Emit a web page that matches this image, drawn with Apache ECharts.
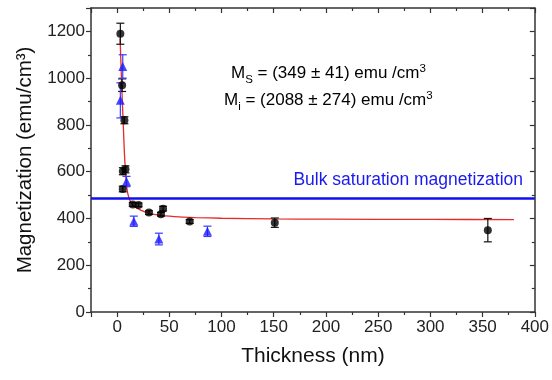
<!DOCTYPE html>
<html>
<head>
<meta charset="utf-8">
<script src="https://cdn.jsdelivr.net/npm/echarts@6/dist/echarts.min.js"></script>
<style>
html,body{margin:0;padding:0;background:#fff;}
#chart{width:552px;height:380px;}
</style>
</head>
<body>
<div id="chart"></div>
<script>
// Black circles: thickness (nm), magnetization (emu/cm3), error
var blackThickness = [3.1, 4.8, 7, 5.5, 8, 5.4, 15, 20.5, 30.5, 42, 44, 69.5, 151, 355];
var blackMag       = [1190, 970, 820, 602, 610, 526, 460, 458, 425, 418, 442, 387, 382, 350];
var blackErr       = [45, 27, 15, 15, 15, 12, 8, 8, 8, 8, 10, 8, 20, 50];

// Blue triangles
var blueThickness = [5.4, 3.1, 9, 16, 40, 86.5];
var blueMag       = [1050, 905, 558, 388, 312, 345];
var blueErr       = [50, 75, 22, 22, 25, 22];

// Red fit curve
var fitThickness = [2.8, 3, 4, 5, 6, 7, 8, 9, 10, 12, 14, 17, 22, 30, 40, 55, 75, 100, 150, 200, 300, 380];
var fitMag       = [1170, 1150, 1020, 900, 790, 680, 600, 545, 510, 480, 462, 450, 437, 424, 414, 408, 404, 401, 398, 397, 396, 395];

// Bulk saturation magnetization
var bulkValue = 485;

var xTickLabels = ['0','50','100','150','200','250','300','350','400'];
var yTickLabels = ['0','200','400','600','800','1000','1200'];

var FONT = 'Liberation Sans, Arial, sans-serif';
var AXC = '#333';

function pairs(xs, ys, es) {
  return xs.map(function (x, i) { return es ? [x, ys[i], es[i]] : [x, ys[i]]; });
}

function errRender(color) {
  return function (params, api) {
    var x = api.value(0), y = api.value(1), e = api.value(2);
    var top = api.coord([x, y + e]);
    var bot = api.coord([x, y - e]);
    var w = 4;
    var st = { stroke: color, lineWidth: 1.2 };
    return {
      type: 'group',
      children: [
        { type: 'line', shape: { x1: top[0], y1: top[1], x2: bot[0], y2: bot[1] }, style: st },
        { type: 'line', shape: { x1: top[0] - w, y1: top[1], x2: top[0] + w, y2: top[1] }, style: st },
        { type: 'line', shape: { x1: bot[0] - w, y1: bot[1], x2: bot[0] + w, y2: bot[1] }, style: st }
      ]
    };
  };
}

var chart = echarts.init(document.getElementById('chart'), null, { renderer: 'canvas' });

var xBase = {
  type: 'value', min: -25, max: 400, splitNumber: 8, minInterval: 50, maxInterval: 50,
  splitLine: { show: false },
  axisLine: { show: true, onZero: false, lineStyle: { color: AXC, width: 1.5 } }
};
var yBase = {
  type: 'value', min: 0, max: 1300, splitNumber: 6, minInterval: 200, maxInterval: 200,
  splitLine: { show: false },
  axisLine: { show: true, onZero: false, lineStyle: { color: AXC, width: 1.5 } }
};

var richM = {
  m: { fontFamily: FONT, fontSize: 17, fill: '#000', verticalAlign: 'bottom' },
  sub: { fontFamily: FONT, fontSize: 11.5, fill: '#000', verticalAlign: 'bottom', padding: [0, 0, -4, 0] },
  sup: { fontFamily: FONT, fontSize: 11.5, fill: '#000', verticalAlign: 'top', padding: [-2, 0, 0, 0] }
};

var option = {
  animation: false,
  backgroundColor: '#fff',
  grid: { left: 91, right: 15, top: 8, bottom: 68, containLabel: false },
  xAxis: [
    Object.assign({}, xBase, {
      position: 'bottom',
      name: 'Thickness (nm)', nameLocation: 'middle', nameGap: 34,
      nameTextStyle: { fontFamily: FONT, fontSize: 21, color: '#111' },
      axisTick: { show: true, inside: false, length: 5, lineStyle: { color: AXC, width: 1.2 } },
      minorTick: { show: true, splitNumber: 2, length: 3, lineStyle: { color: AXC, width: 1.2 } },
      axisLabel: {
        fontFamily: FONT, fontSize: 17, color: '#222', margin: 7,
        formatter: function (v) { var s = String(v); return xTickLabels.indexOf(s) >= 0 ? s : ''; }
      }
    }),
    Object.assign({}, xBase, {
      position: 'top',
      axisTick: { show: true, inside: true, length: 5, lineStyle: { color: AXC, width: 1.2 } },
      minorTick: { show: true, splitNumber: 2, length: 3, lineStyle: { color: AXC, width: 1.2 } },
      axisLabel: { show: false }
    })
  ],
  yAxis: [
    Object.assign({}, yBase, {
      position: 'left',
      name: 'Magnetization (emu/cm³)', nameLocation: 'middle', nameGap: 50, nameRotate: 90,
      nameTextStyle: { fontFamily: FONT, fontSize: 20.5, color: '#111' },
      axisTick: { show: true, inside: false, length: 5, lineStyle: { color: AXC, width: 1.2 } },
      minorTick: { show: true, splitNumber: 2, length: 3, lineStyle: { color: AXC, width: 1.2 } },
      axisLabel: {
        fontFamily: FONT, fontSize: 17, color: '#222', margin: 6,
        formatter: function (v) { var s = String(v); return yTickLabels.indexOf(s) >= 0 ? s : ''; }
      }
    }),
    Object.assign({}, yBase, {
      position: 'right',
      axisTick: { show: true, inside: true, length: 5, lineStyle: { color: AXC, width: 1.2 } },
      minorTick: { show: true, splitNumber: 2, length: 3, lineStyle: { color: AXC, width: 1.2 } },
      axisLabel: { show: false }
    })
  ],
  series: [
    {
      type: 'line', name: 'bulk', data: [], xAxisIndex: 0, yAxisIndex: 0,
      markLine: {
        silent: true, symbol: ['none', 'none'],
        lineStyle: { color: '#1010ee', width: 2.5, type: 'solid' },
        label: { show: false },
        data: [{ yAxis: bulkValue }]
      }
    },
    {
      type: 'line', name: 'fit', data: pairs(fitThickness, fitMag),
      smooth: 0.3, showSymbol: false, symbol: 'none',
      lineStyle: { color: '#e8282a', width: 1.3 }, z: 3
    },
    {
      type: 'custom', name: 'blackErr', data: pairs(blackThickness, blackMag, blackErr),
      renderItem: errRender('#111'), encode: { x: 0, y: 1 }, z: 4
    },
    {
      type: 'custom', name: 'blueErr', data: pairs(blueThickness, blueMag, blueErr),
      renderItem: errRender('#3a3aff'), encode: { x: 0, y: 1 }, z: 4
    },
    {
      type: 'scatter', name: 'black', data: pairs(blackThickness, blackMag),
      symbol: 'circle', symbolSize: 8, itemStyle: { color: '#000' }, z: 5
    },
    {
      type: 'scatter', name: 'blue', data: pairs(blueThickness, blueMag),
      symbol: 'triangle', symbolSize: 9, itemStyle: { color: '#1a1aff' }, z: 5
    }
  ],
  graphic: [
    {
      type: 'text', left: 231, top: 63,
      style: { text: '{m|M}{sub|S}{m| = (349 ± 41) emu /cm}{sup|3}', rich: richM }
    },
    {
      type: 'text', left: 224, top: 90,
      style: { text: '{m|M}{sub|i}{m| = (2088 ± 274) emu /cm}{sup|3}', rich: richM }
    },
    {
      type: 'text', right: 29, top: 171,
      style: { text: 'Bulk saturation magnetization', fontFamily: FONT, fontSize: 17.5, fill: '#1a1aee' }
    }
  ]
};

chart.setOption(option);
</script>
</body>
</html>
